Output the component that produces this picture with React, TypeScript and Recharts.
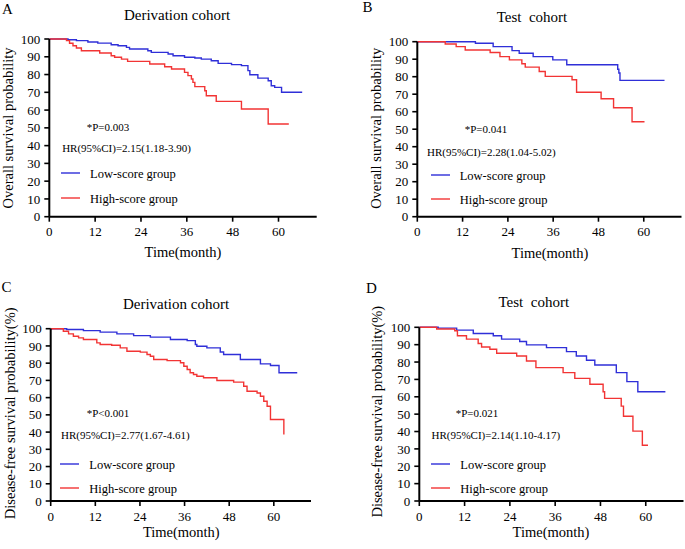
import React from 'react';
import { LineChart, Line, XAxis, YAxis, Legend } from 'recharts';

const FONT = "'Liberation Serif','Times New Roman',serif";
const BLUE = '#2f2fd8';
const RED = '#f23434';

const xTicks = [0, 12, 24, 36, 48, 60];
const yTicks = [0, 10, 20, 30, 40, 50, 60, 70, 80, 90, 100];
const groupNames = ['Low-score group', 'High-score group'];

// [month, survival %]
const osDerivLow: [number, number][] = [[0,100],[4.9,99.6],[7.1,99.1],[10.1,98.3],[12.7,97.7],[16.2,96.8],[18,96.2],[20.2,95.3],[21,94.4],[25.8,93.4],[26.7,92.5],[31.1,91.6],[32.4,90.6],[35.4,89.7],[38.1,89.3],[39.8,88.7],[42.4,87.8],[44.2,86.3],[47.7,85.6],[50.3,85.0],[52,82.2],[52.5,79.9],[54.6,78.0],[57.3,76.5],[58.1,73.7],[59,72.8],[60.8,70.0],[66.2,70.0]];
const osDerivHigh: [number, number][] = [[0,100],[4.5,99.1],[5.3,97.6],[6.2,96.2],[7.1,94.9],[8.4,93.4],[13.2,92.1],[16.2,90.6],[17.1,89.7],[18.9,88.7],[20.5,87.4],[26.3,85.9],[30.2,84.4],[32,83.1],[35.4,81.2],[36.3,79.4],[37.2,77.5],[37.6,75.6],[38.1,73.2],[40.7,70.9],[41.1,68.1],[43.7,64.9],[50.3,60.6],[57.3,52.2],[62.7,52.2]];
const osTestLow: [number, number][] = [[0,100],[15.4,99.1],[20.1,97.2],[25.1,94.9],[27,93.4],[30.7,91.5],[35.9,89.6],[39.6,86.8],[53.1,84.3],[53.4,82.1],[53.7,77.9],[65.5,77.9]];
const osTestHigh: [number, number][] = [[0,100],[7.4,98.7],[10.3,97.2],[12.7,95.3],[19.3,93.8],[21.9,91.5],[24.4,89.6],[27.7,87.4],[28.6,85.5],[32.3,83.0],[33.9,80.2],[41,78.3],[42.2,71.1],[48.7,67.4],[52,62.3],[56.9,54.3],[60.2,54.3]];
const dfsDerivLow: [number, number][] = [[0,100],[4.3,99.5],[8.8,98.9],[13.3,98.0],[17.8,97.0],[22.3,96.0],[26.8,95.1],[32.2,93.7],[36.7,93.1],[38.9,90.8],[39.3,89.8],[42,88.9],[45.6,86.5],[46.5,85.0],[51,82.1],[56.4,79.6],[59.1,78.6],[61.4,74.4],[66.3,74.4]];
const dfsDerivHigh: [number, number][] = [[0,100],[3.4,98.5],[4.8,97.0],[6.1,95.6],[7.5,94.7],[8.8,93.7],[12.4,91.8],[13.3,90.8],[16.4,90.4],[18.7,88.9],[20.5,86.9],[24.1,86.4],[25.9,85.0],[26.8,84.0],[27.7,82.1],[31.3,81.5],[34.9,80.2],[35.8,78.2],[36.7,76.3],[37.5,74.4],[38.4,73.4],[39.3,72.4],[41.1,71.5],[44.7,69.9],[49.2,69.0],[51.9,66.6],[52.8,63.7],[55.5,62.7],[56.4,60.8],[57.3,57.9],[58.2,55.0],[59.1,47.3],[62.7,38.6]];
const dfsTestLow: [number, number][] = [[0,100],[5,99.5],[9.9,98.4],[14.3,96.4],[19.6,95.1],[21.8,93.2],[26.6,91.8],[28.4,89.9],[33.7,88.3],[39,86.0],[41.6,83.5],[44.3,81.0],[46.5,78.3],[52.2,73.9],[55,68.7],[57.9,62.9],[65.2,62.9]];
const dfsTestHigh: [number, number][] = [[0,100],[4.6,99.0],[9.4,98.0],[10.1,95.1],[12.5,93.2],[15.6,90.7],[16.5,88.7],[18.7,87.4],[20.5,85.1],[25.8,83.5],[28.4,80.6],[30.9,76.8],[38.1,73.9],[41.2,70.6],[45.2,67.2],[48.7,62.9],[49.1,59.1],[53.5,54.6],[54.1,48.8],[56.6,40.2],[59.1,32.1],[60.6,32.1]];

const toRows = (a: [number, number][]) => a.map(([t, s]) => ({ t, s }));

const W = 685;
const H = 549;
const YW = 40;
const XH = 30;

type PanelCfg = {
  qx: number; qy: number; qw: number; qh: number;
  letter: string; lx: number; ly: number;
  title: string; tx: number; ty: number;
  ylabel: string; ylx: number; yly: number;
  xlx: number; xly: number;
  p: string; px: number; py: number;
  hr: string; hx: number; hy: number;
  legX: number; legY: number; legGap: number; legText: number;
  left: number; right: number; top: number; bottom: number;
  low: [number, number][]; high: [number, number][];
};

const panels: PanelCfg[] = [
  { qx: 0, qy: 0, qw: 340, qh: 268, letter: 'A', lx: 2, ly: 13.5, title: 'Derivation cohort', tx: 177, ty: 20,
    ylabel: 'Overall survival probability', ylx: 9.5, yly: 128,
    xlx: 183, xly: 256.5, p: '*P=0.003', px: 108, py: 130.7,
    hr: 'HR(95%CI)=2.15(1.18-3.90)', hx: 126.5, hy: 151.5,
    legX: 61, legY: 173, legGap: 25, legText: 29,
    left: 49.3, right: 316.7, top: 39, bottom: 216.7, low: osDerivLow, high: osDerivHigh },
  { qx: 340, qy: 0, qw: 345, qh: 268, letter: 'B', lx: 362.5, ly: 12, title: 'Test\u00A0 cohort', tx: 532, ty: 21.5,
    ylabel: 'Overall survival probability', ylx: 378, yly: 128.3,
    xlx: 550, xly: 258, p: '*P=0.041', px: 486, py: 133,
    hr: 'HR(95%CI)=2.28(1.04-5.02)', hx: 491.3, hy: 156,
    legX: 430.7, legY: 175, legGap: 24, legText: 28.7,
    left: 417.3, right: 681.5, top: 41.7, bottom: 216.7, low: osTestLow, high: osTestHigh },
  { qx: 0, qy: 270, qw: 340, qh: 279, letter: 'C', lx: 1.5, ly: 291.7, title: 'Derivation cohort', tx: 176, ty: 309.3,
    ylabel: 'Disease-free survival probability(%)', ylx: 12, yly: 413.3,
    xlx: 181.3, xly: 537, p: '*P<0.001', px: 108, py: 417.3,
    hr: 'HR(95%CI)=2.77(1.67-4.61)', hx: 125.3, hy: 438.5,
    legX: 60, legY: 464.3, legGap: 24, legText: 29.3,
    left: 50.7, right: 311, top: 328.7, bottom: 501, low: dfsDerivLow, high: dfsDerivHigh },
  { qx: 340, qy: 270, qw: 345, qh: 279, letter: 'D', lx: 366, ly: 293.3, title: 'Test\u00A0 cohort', tx: 533.8, ty: 307.3,
    ylabel: 'Disease-free survival probability(%)', ylx: 379, yly: 411.7,
    xlx: 551, xly: 537, p: '*P=0.021', px: 477, py: 417.3,
    hr: 'HR(95%CI)=2.14(1.10-4.17)', hx: 495.8, hy: 438.5,
    legX: 430.7, legY: 464.3, legGap: 24, legText: 29.3,
    left: 419.3, right: 683.5, top: 327.3, bottom: 501, low: dfsTestLow, high: dfsTestHigh },
];

const makeLegend = (cfg: PanelCfg) => (props: any) => {
  const items = [...(props.payload || [])].sort(
    (a: any, b: any) => groupNames.indexOf(a.value) - groupNames.indexOf(b.value)
  );
  return (
    <svg width={170} height={36} style={{ display: 'block', overflow: 'visible' }}>
      {items.map((it: any, i: number) => (
        <g key={i}>
          <line x1={0} x2={19} y1={8 + i * cfg.legGap} y2={8 + i * cfg.legGap} stroke={it.color} strokeWidth={1.4} />
          <text x={cfg.legText} y={8 + i * cfg.legGap + 4.6} fontFamily={FONT} fontSize={12.5} fill="#000">{it.value}</text>
        </g>
      ))}
    </svg>
  );
};

function Panel({ cfg }: { cfg: PanelCfg }) {
  const lx = cfg.left - cfg.qx;
  const rx = cfg.right - cfg.qx;
  const ty = cfg.top - cfg.qy;
  const by = cfg.bottom - cfg.qy;
  const margin = {
    top: ty,
    left: lx - YW,
    right: cfg.qw - rx,
    bottom: cfg.qh - by - XH,
  };
  return (
    <div style={{ position: 'absolute', left: cfg.qx, top: cfg.qy, width: cfg.qw, height: cfg.qh }}>
      <LineChart width={cfg.qw} height={cfg.qh} margin={margin}>
        <XAxis
          type="number" dataKey="t" domain={[0, 70]} ticks={xTicks} allowDataOverflow
          height={XH} tickSize={5} tickMargin={5.5}
          axisLine={{ stroke: '#000', strokeWidth: 2 }}
          tickLine={{ stroke: '#000', strokeWidth: 1.6 }}
          tick={{ fill: '#000', fontSize: 13, fontFamily: FONT }}
        />
        <YAxis
          type="number" domain={[0, 100]} ticks={yTicks} interval={0}
          width={YW} tickSize={5} tickMargin={4}
          axisLine={{ stroke: '#000', strokeWidth: 2 }}
          tickLine={{ stroke: '#000', strokeWidth: 1.6 }}
          tick={{ fill: '#000', fontSize: 13, fontFamily: FONT }}
        />
        <Legend
          layout="vertical" align="center" verticalAlign="middle"
          wrapperStyle={{ position: 'absolute', left: cfg.legX - cfg.qx, top: cfg.legY - 8 - cfg.qy, width: 170, height: 36, margin: 0 }}
          content={makeLegend(cfg)}
        />
        <Line data={toRows(cfg.low)} dataKey="s" name={groupNames[0]} type="stepAfter" stroke={BLUE} strokeWidth={1.4} dot={false} activeDot={false} isAnimationActive={false} />
        <Line data={toRows(cfg.high)} dataKey="s" name={groupNames[1]} type="stepAfter" stroke={RED} strokeWidth={1.4} dot={false} activeDot={false} isAnimationActive={false} />
      </LineChart>
    </div>
  );
}

export default function App() {
  return (
    <div style={{ position: 'absolute', left: 0, top: 0, width: W, height: H, background: '#fff', overflow: 'hidden' }}>
      {panels.map((p, i) => <Panel key={i} cfg={p} />)}
      <svg width={W} height={H} style={{ position: 'absolute', left: 0, top: 0, pointerEvents: 'none' }} fontFamily={FONT} fill="#000">
        {panels.map((p, i) => (
          <g key={i}>
            <text x={p.lx} y={p.ly} fontSize={15}>{p.letter}</text>
            <text x={p.tx} y={p.ty} fontSize={15} textAnchor="middle" style={{ whiteSpace: 'pre' }}>{p.title}</text>
            <text x={p.ylx} y={p.yly} fontSize={14.5} textAnchor="middle" dominantBaseline="middle" transform={`rotate(-90 ${p.ylx} ${p.yly})`}>{p.ylabel}</text>
            <text x={p.xlx} y={p.xly} fontSize={14.5} textAnchor="middle">Time(month)</text>
            <text x={p.px} y={p.py} fontSize={11} textAnchor="middle">{p.p}</text>
            <text x={p.hx} y={p.hy} fontSize={11} textAnchor="middle">{p.hr}</text>
          </g>
        ))}
      </svg>
    </div>
  );
}
